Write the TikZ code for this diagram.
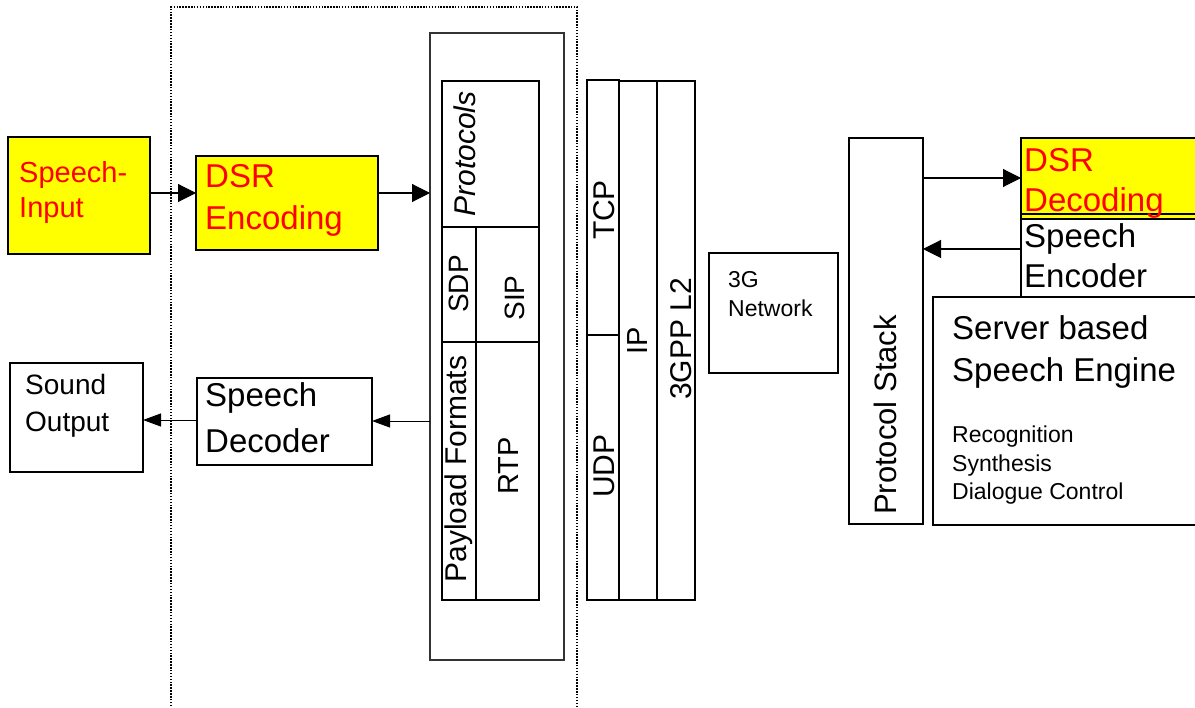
\documentclass[tikz,border=0pt]{standalone}
\usepackage{fontspec}
\setmainfont{Liberation Sans}
\usetikzlibrary{arrows.meta}
\definecolor{dsryellow}{RGB}{255,255,0}
\definecolor{dsrred}{RGB}{255,0,0}
\newcommand{\fs}[2]{\fontsize{#1}{#2}\selectfont}
\tikzset{
  box/.style={draw, line width=1.3pt, inner sep=0pt, outer sep=0pt, anchor=north west},
  ybox/.style={box, fill=dsryellow},
  lbl/.style={inner sep=0pt, anchor=base west, align=left},
  vlbl/.style={inner sep=0pt, anchor=center, rotate=90},
  arr/.style={line width=1.1pt, -{Triangle[length=18pt,width=18pt]}},
  arrs/.style={line width=0.9pt, -{Triangle[length=18pt,width=13pt]}},
}
\begin{document}
\begin{tikzpicture}[x=1pt,y=-1pt]
\useasboundingbox (0,0) rectangle (1195,708);
% dotted client frame
\draw[line width=1.6pt, dash pattern=on 1.5pt off 1.4pt] (171,712) -- (171,7) -- (577,7) -- (577,712);
% left boxes
\node[ybox, minimum width=142, minimum height=117] (sin) at (8,137) {};
\node[lbl, text=dsrred, font=\fs{29}{35}] (sintxt) at (19,218) {Speech-\\Input};
\node[ybox, minimum width=182, minimum height=94] (dsrenc) at (196,156) {};
\node[lbl, text=dsrred, font=\fs{33}{42}] (dsrenctxt) at (205,230) {DSR\\Encoding};
\node[box, minimum width=133, minimum height=109] (sout) at (10,363) {};
\node[lbl, font=\fs{28}{37}] (souttxt) at (25,432) {Sound\\Output};
\node[box, minimum width=175, minimum height=87] (spdec) at (197,378) {};
\node[lbl, font=\fs{33}{46}] (spdectxt) at (205,453) {Speech\\Decoder};
% protocol block
\node[box, line width=1.2pt, draw=black!80, minimum width=134, minimum height=627] (outer) at (430,33) {};
\node[box, minimum width=97, minimum height=519] (inner) at (442,81) {};
\coordinate (h1) at (0,227);
\coordinate (h2) at (0,342);
\coordinate (v1) at (476,0);
\draw[line width=1.3pt] (h1 -| inner.west) -- (h1 -| inner.east);
\draw[line width=1.3pt] (h2 -| inner.west) -- (h2 -| inner.east);
\draw[line width=1.3pt] (v1 |- h1) -- (v1 |- inner.south);
\node[vlbl, font=\fs{30}{36}\itshape] (protxt) at (465,154) {Protocols};
\node[vlbl, font=\fs{28}{34}] (sdptxt) at (459,284) {SDP};
\node[vlbl, font=\fs{28}{34}] (siptxt) at (515,298) {SIP};
\node[vlbl, font=\fs{30}{36}] (pftxt) at (459,469) {Payload Formats};
\node[vlbl, font=\fs{29}{35}] (rtptxt) at (509,466) {RTP};
% transport columns
\node[box, minimum width=32, minimum height=520] (tcp) at (587,80) {};
\coordinate (h3) at (0,335);
\draw[line width=1.3pt] (h3 -| tcp.west) -- (h3 -| tcp.east);
\node[box, minimum width=38, minimum height=519] (ip) at (619,81) {};
\node[box, minimum width=38, minimum height=519] (l2) at (657,81) {};
\node[vlbl, font=\fs{30}{36}] (tcptxt) at (604,210) {TCP};
\node[vlbl, font=\fs{30}{36}] (udptxt) at (604,466) {UDP};
\node[vlbl, font=\fs{29}{35}] (iptxt) at (638,341) {IP};
\node[vlbl, font=\fs{30}{36}] (l2txt) at (681,339) {3GPP L2};
% network
\node[box, minimum width=129, minimum height=120] (net) at (709,253) {};
\node[lbl, font=\fs{23}{29}] (nettxt) at (728,317) {3G\\Network};
% server side
\node[box, minimum width=74, minimum height=386] (pstack) at (849,138) {};
\node[vlbl, font=\fs{31}{37}] (pstacktxt) at (885,415) {Protocol Stack};
\node[ybox, minimum width=185, minimum height=81] (dsrdec) at (1021,138) {};
\coordinate (h4) at (0,214);
\draw[line width=1.3pt] (h4 -| dsrdec.west) -- (h4 -| dsrdec.east);
\node[box, minimum width=185, minimum height=78] (spenc) at (1021,219) {};
\node[lbl, text=dsrred, font=\fs{33}{40}] (dsrdectxt) at (1024,212) {DSR\\Decoding};
\node[lbl, font=\fs{33}{40}] (spenctxt) at (1024,288) {Speech\\Encoder};
\node[box, fill=white, minimum width=273, minimum height=228] (engine) at (933,297) {};
\node[lbl, font=\fs{33}{42}] (enginetxt) at (952,382) {Server based\\Speech Engine};
\node[lbl, font=\fs{23}{28.5}] (funcs) at (952,500) {Recognition\\Synthesis\\Dialogue Control};
% connectors
\coordinate (y1) at (0,193);
\coordinate (y2) at (0,421);
\coordinate (y3) at (0,420);
\coordinate (y4) at (0,178);
\coordinate (y5) at (0,249);
\draw[arr] (y1 -| sin.east) -- (y1 -| dsrenc.west);
\draw[arr] (y1 -| dsrenc.east) -- (y1 -| outer.west);
\draw[arrs] (y2 -| outer.west) -- (y2 -| spdec.east);
\draw[arrs] (y3 -| spdec.west) -- (y3 -| sout.east);
\draw[arr] (y4 -| pstack.east) -- (y4 -| dsrdec.west);
\draw[arr] (y5 -| spenc.west) -- (y5 -| pstack.east);
\end{tikzpicture}
\end{document}
